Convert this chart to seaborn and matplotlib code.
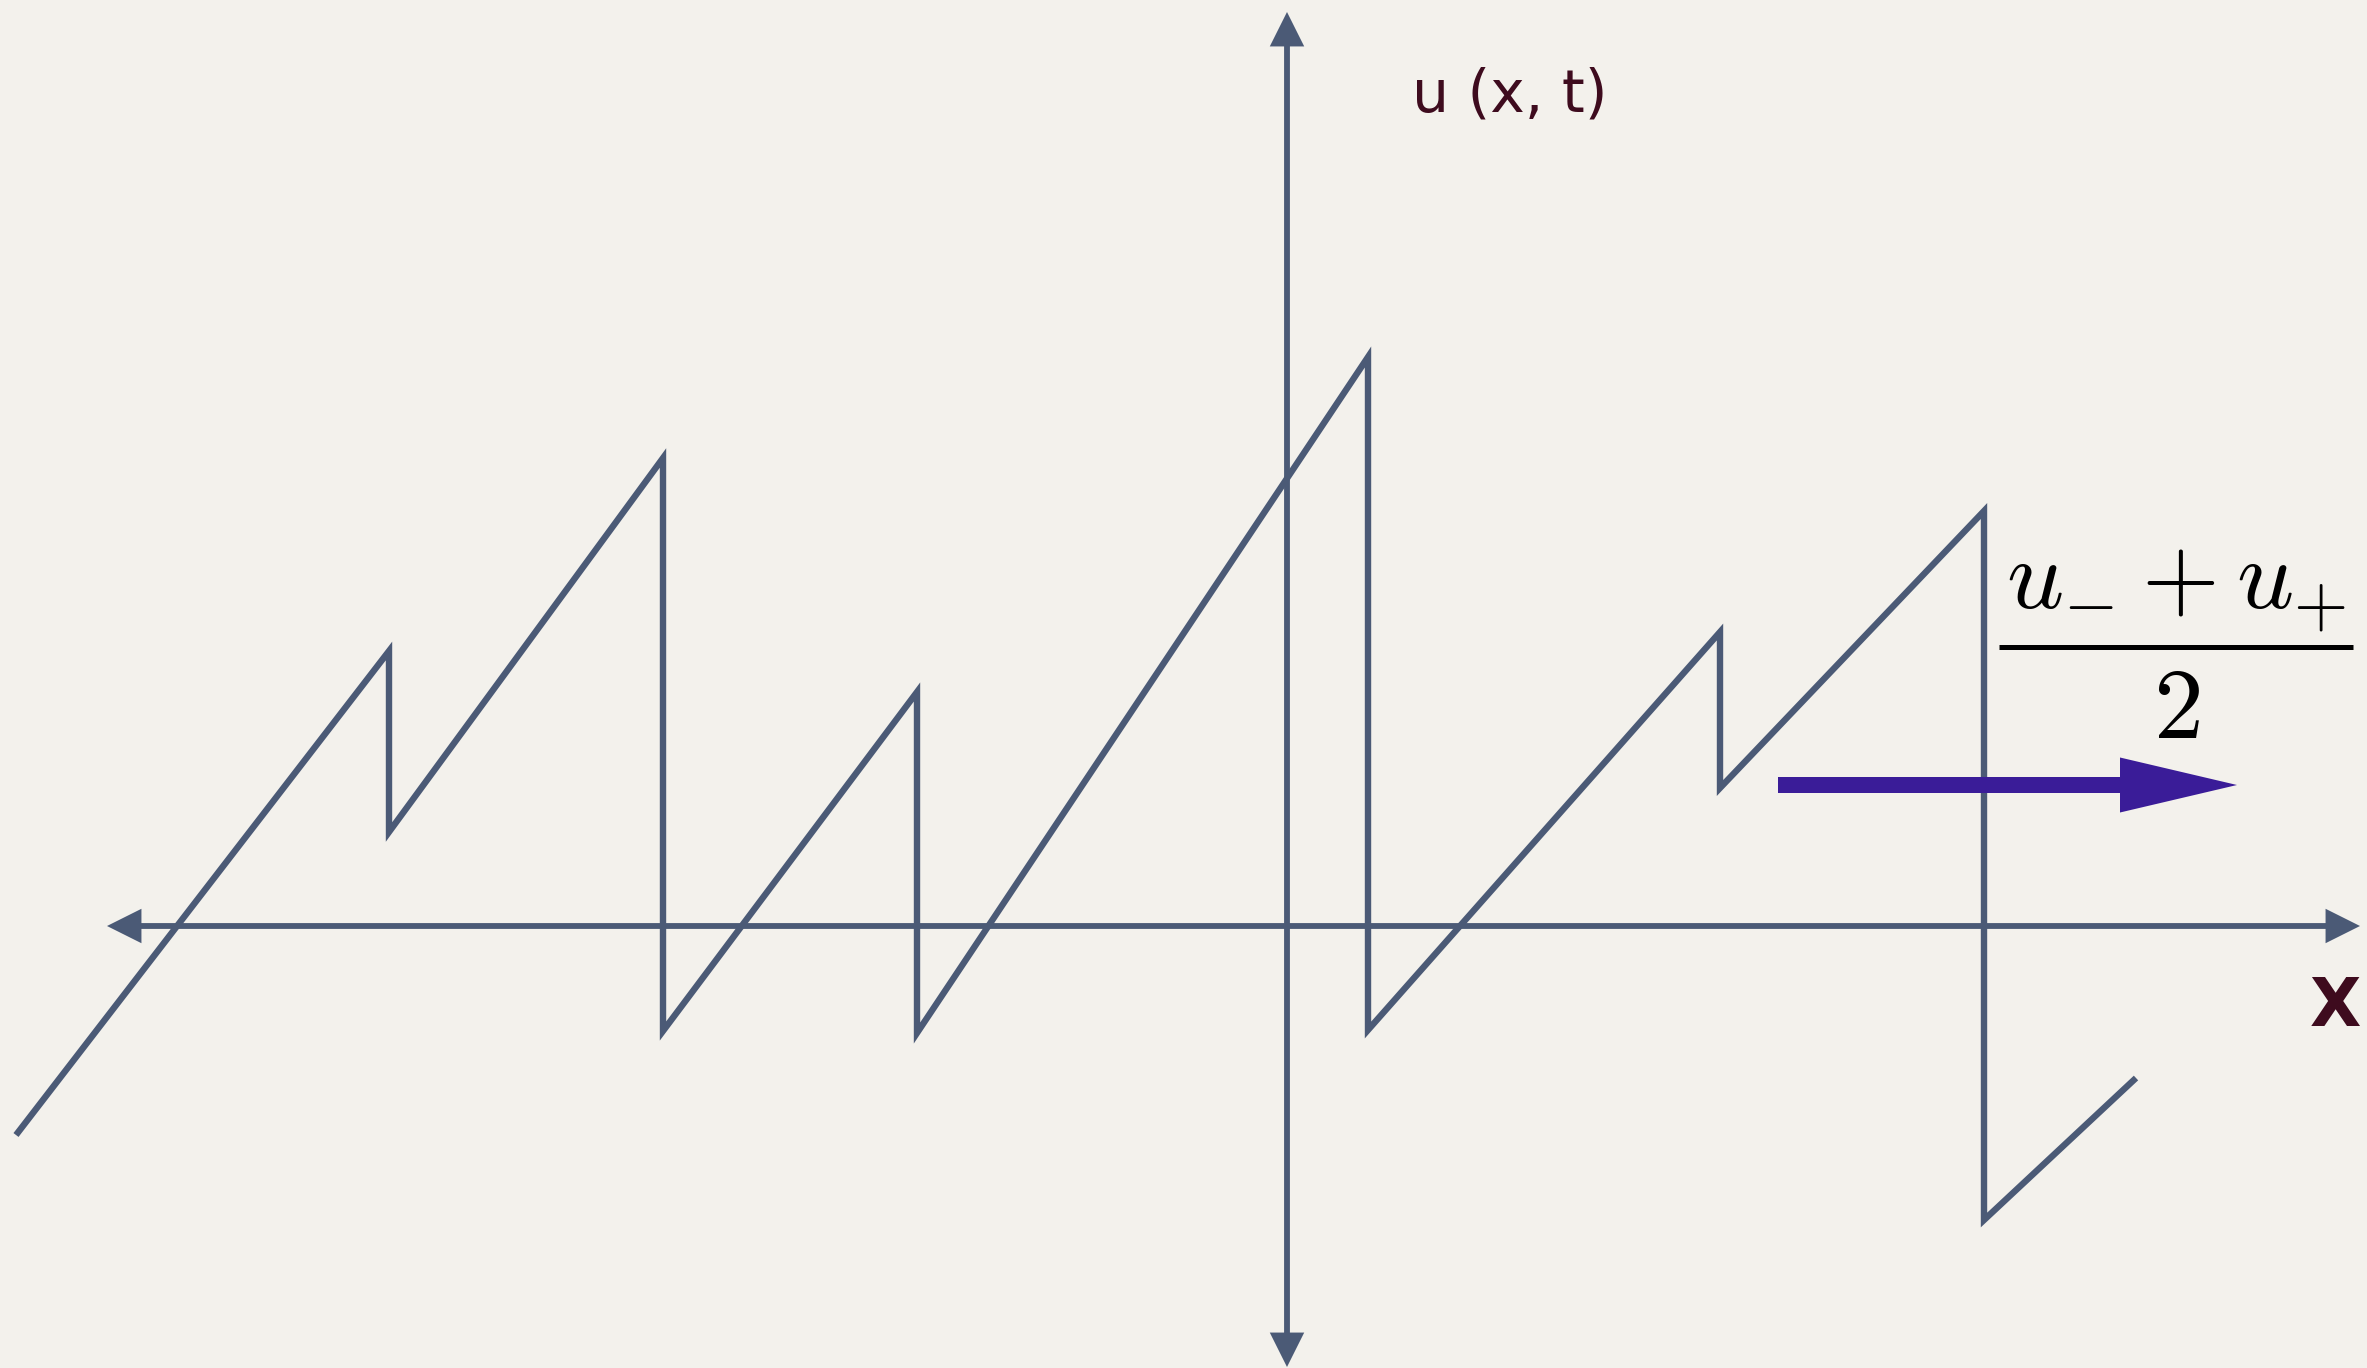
import matplotlib
matplotlib.use("Agg")
import matplotlib.pyplot as plt
from matplotlib.patches import FancyArrowPatch
import seaborn as sns
import pandas as pd

# Sawtooth profile u(x, t): vertices in order (x, u)
wave_x = [-12.71, -8.98, -8.98, -6.24, -6.24, -3.70, -3.70, 0.81, 0.81,
          4.33, 4.33, 6.97, 6.97, 8.49]
wave_u = [-2.09, 2.75, 0.94, 4.68, -1.05, 2.34, -1.07, 5.69, -1.04,
          2.94, 1.38, 4.15, -2.94, -1.52]

# Axis extents (arrow tips)
x_axis_range = [-11.80, 10.73]
u_axis_range = [-4.41, 9.14]

# Shock propagation arrow (start, end, height)
shock_x = [4.91, 9.50]
shock_u = 1.41

y_label = "u (x, t)"
x_label = "X"
speed_num = r"$u_{-} + u_{+}$"
speed_den = r"$2$"

BG = "#F3F1EC"
INK = "#4B5A76"
TEXT = "#3E0B1E"
PURPLE = "#3A1C98"

sns.set_theme(style="white")
plt.rcParams["font.family"] = ["DejaVu Sans"]
plt.rcParams["mathtext.fontset"] = "cm"

fig = plt.figure(figsize=(23.67, 13.68), dpi=100, facecolor=BG)
ax = fig.add_axes([0, 0, 1, 1])
ax.set_facecolor(BG)
ax.set_xlim(-12.87, 10.80)
ax.set_ylim(-4.42, 9.26)
ax.set_axis_off()

# Coordinate axes with arrowheads at both ends
axis_kw = dict(arrowstyle="<|-|>,head_length=18,head_width=9",
               color=INK, lw=4.2, mutation_scale=1, shrinkA=0, shrinkB=0,
               joinstyle="miter", capstyle="butt", zorder=2)
ax.add_patch(FancyArrowPatch((x_axis_range[0], 0), (x_axis_range[1], 0), **axis_kw))
ax.add_patch(FancyArrowPatch((0, u_axis_range[0]), (0, u_axis_range[1]), **axis_kw))

# Sawtooth wave
df = pd.DataFrame({"x": wave_x, "u": wave_u})
sns.lineplot(data=df, x="x", y="u", sort=False, estimator=None, ax=ax,
             color=INK, lw=4.6, solid_joinstyle="miter",
             solid_capstyle="butt", zorder=3)
ax.set_xlabel("")
ax.set_ylabel("")

# Shock speed arrow
ax.arrow(shock_x[0], shock_u, shock_x[1] - shock_x[0], 0,
         width=0.16, head_width=0.55, head_length=1.17,
         length_includes_head=True, color=PURPLE, lw=0, zorder=4)

# Labels
ax.text(2.23, 8.31, y_label, fontsize=42, color=TEXT, ha="center", va="center")
ax.text(10.48, -0.81, x_label, fontsize=48, fontweight="bold", color=TEXT,
        ha="center", va="center")

# Shock speed (u- + u+)/2, set as numerator, bar and denominator
ax.text(8.895, 3.18, speed_num, fontsize=72, color="black",
        ha="center", va="baseline")
ax.plot([7.12, 10.66], [2.79, 2.79], color="black", lw=3.6,
        solid_capstyle="butt")
ax.text(8.89, 1.88, speed_den, fontsize=72, color="black",
        ha="center", va="baseline")

fig.savefig("out.png", dpi=100, facecolor=BG)
